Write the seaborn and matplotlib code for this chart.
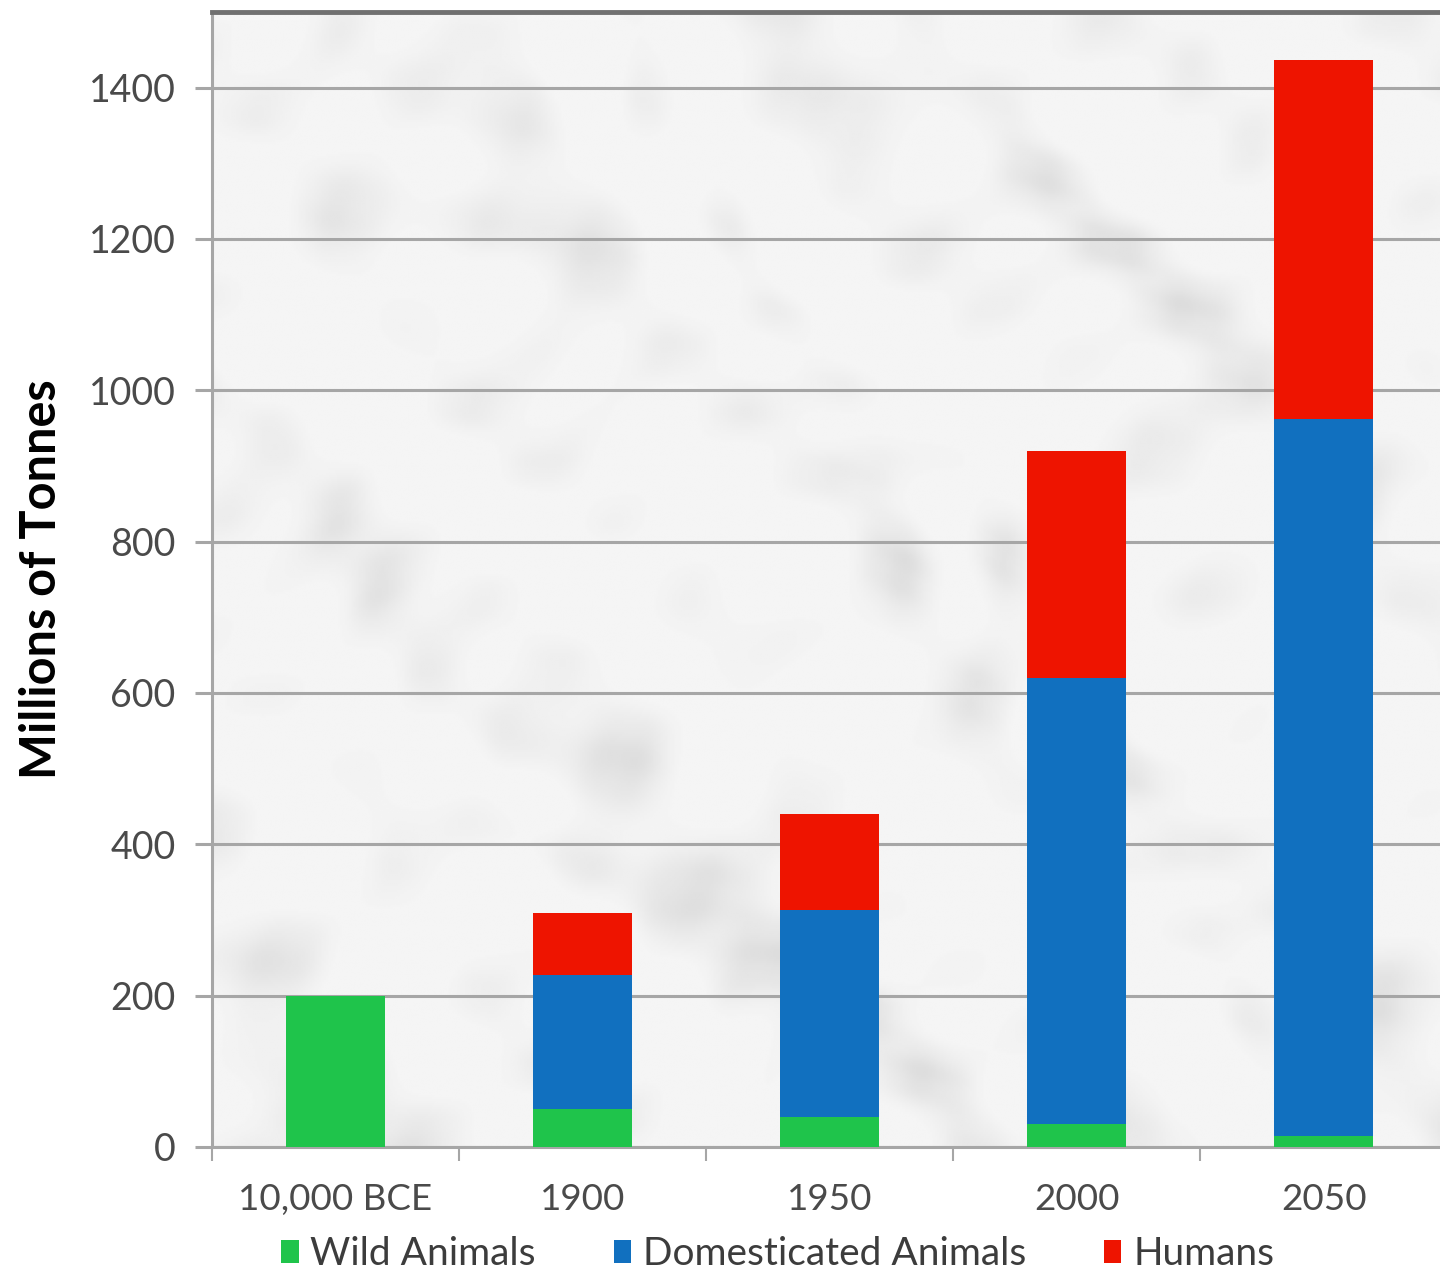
import numpy as np
import pandas as pd
import matplotlib
matplotlib.use("Agg")
import matplotlib.pyplot as plt
from matplotlib.patches import Patch
import seaborn as sns

# Biomass of land mammals, millions of tonnes
periods = ["10,000 BCE", "1900", "1950", "2000", "2050"]
wild = [200, 50, 40, 30, 15]
domesticated = [0, 177, 273, 590, 947]
humans = [0, 82, 127, 300, 474]

series_names = ["Wild Animals", "Domesticated Animals", "Humans"]
colors = {"Wild Animals": "#1fc44b", "Domesticated Animals": "#1170bf", "Humans": "#ee1400"}

df = pd.DataFrame({"period": periods, "wild": wild,
                   "domesticated": domesticated, "humans": humans})
df["wild_dom"] = df["wild"] + df["domesticated"]
df["total"] = df["wild_dom"] + df["humans"]

sns.set_theme(style="white")
plt.rcParams["font.family"] = ["Lato", "DejaVu Sans"]

fig = plt.figure(figsize=(14.4, 12.71), dpi=100)
fig.patch.set_facecolor("white")
ax = fig.add_axes([0.147, 0.0976, 0.858, 0.893])

# soft, cloudy marble backdrop built from layered sine waves
nx, ny = 700, 560
xx, yy = np.meshgrid(np.linspace(0, 1, nx), np.linspace(0, 1, ny))
warp = (np.sin(7 * xx + 3 * yy + 0.4) + 0.7 * np.sin(11 * yy - 5 * xx + 1.3)
        + 0.5 * np.sin(19 * xx + 13 * yy + 0.7))
cloud = (np.sin(13 * xx + 2.0 * warp) * np.sin(15 * yy - 1.6 * warp + 0.9)
         + 0.5 * np.sin(37 * xx + 29 * yy + 1.5 * warp)
         + 0.35 * np.sin(53 * yy - 41 * xx + 2.0 * warp))
blot = np.clip(cloud, 0, None) ** 1.3
fine = 0.5 + 0.5 * np.sin(90 * xx + 70 * yy + 3 * warp) * np.sin(110 * yy - 60 * xx + 2 * warp)
tex = 0.958 - 0.035 * blot - 0.012 * fine * blot
ax.imshow(tex, cmap="gray", vmin=0, vmax=1, extent=(-0.5, 4.5, 0, 1500),
          aspect="auto", origin="lower", zorder=0, interpolation="bilinear")

# stacked bars drawn as overlapping cumulative totals
bar_kw = dict(width=0.4, saturation=1, ax=ax, linewidth=0, edgecolor="none")
sns.barplot(data=df, x="period", y="total", color=colors["Humans"], zorder=3, **bar_kw)
sns.barplot(data=df, x="period", y="wild_dom", color=colors["Domesticated Animals"],
            zorder=4, **bar_kw)
sns.barplot(data=df, x="period", y="wild", color=colors["Wild Animals"], zorder=5, **bar_kw)

ax.set_xlim(-0.5, 4.5)
ax.set_ylim(0, 1500)
ax.set_yticks(range(0, 1401, 200))
ax.yaxis.grid(True, color="#a6a6a6", linewidth=2.2, zorder=1)
ax.set_axisbelow(True)
for line in ax.get_ygridlines():
    line.set_zorder(1)

ax.tick_params(axis="y", length=12, width=2.2, color="#a6a6a6", pad=14,
               labelsize=27, labelcolor="#4a4a4a", left=True)
ax.tick_params(axis="x", length=0, pad=26, labelsize=26.5, labelcolor="#4a4a4a")
ax.set_xticks(np.arange(-0.5, 5, 1), minor=True)
ax.tick_params(axis="x", which="minor", length=10, width=1.5, color="#a6a6a6", bottom=True)

ax.set_xlabel("")
ax.set_ylabel("Millions of Tonnes", fontsize=35, fontweight="bold", color="black",
              labelpad=18)

for side in ["left", "bottom"]:
    ax.spines[side].set_color("#a6a6a6")
    ax.spines[side].set_linewidth(2.2)
ax.spines["top"].set_color("#707070")
ax.spines["top"].set_linewidth(3.5)
ax.spines["right"].set_visible(False)

handles = [Patch(facecolor=colors[n], edgecolor="none", label=n) for n in series_names]
fig.legend(handles=handles, loc="center", bbox_to_anchor=(0.54, 0.013), ncol=3,
           frameon=False, fontsize=28, handlelength=0.45, handleheight=0.55,
           handletextpad=0.3, columnspacing=2.0, labelcolor="#3c3c3c")

fig.savefig("out.png", dpi=100, facecolor="white")
